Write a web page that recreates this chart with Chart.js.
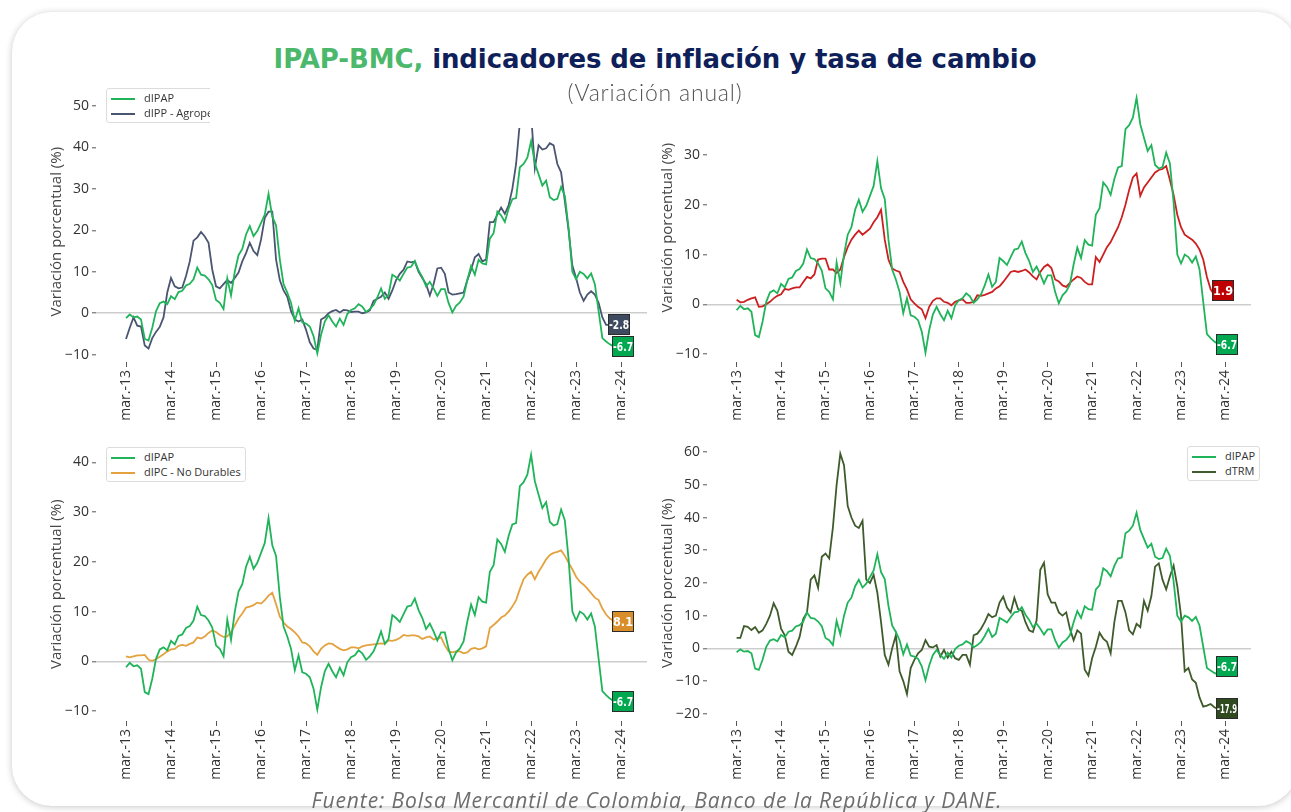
<!DOCTYPE html>
<html lang="es">
<head>
<meta charset="utf-8">
<title>IPAP-BMC, indicadores de inflación y tasa de cambio</title>
<script src="https://cdn.jsdelivr.net/npm/chart.js@4.4.1/dist/chart.umd.min.js"></script>
<style>
  html, body { margin: 0; padding: 0; background: #fff; }
  body { width: 1291px; height: 812px; position: relative; overflow: hidden; font-family: 'Open Sans', sans-serif; }
  #card { position: absolute; left: 12px; top: 12px; width: 1286px; height: 794px; background: #fff;
          border-radius: 40px; box-shadow: 0 1px 7px rgba(0,0,0,0.22); }
  canvas { position: absolute; }
  .legend { position: absolute; background: #fff; border: 1px solid #dcdcdc; border-radius: 3px;
            padding: 1px 4px 2px 4px; font-size: 11px; line-height: 15px; color: #333; white-space: nowrap; overflow: hidden; }
  .legend span { display: inline-block; width: 24px; height: 2px; vertical-align: middle; margin-right: 9px; }
  .mask { position: absolute; left: 210px; top: 80px; width: 432px; height: 48px; background: #fff; }
  #titulo { position: absolute; left: 0; top: 44px; width: 1310px; text-align: center; font-family: 'DejaVu Sans', sans-serif;
            font-weight: bold; font-size: 26px; color: #0f1f5a; letter-spacing: -0.1px; }
  #titulo .verde { color: #4cb86b; }
  #subtitulo { position: absolute; left: 0; top: 78px; width: 1310px; text-align: center; font-family: 'Lato', sans-serif;
               font-weight: 300; font-size: 23px; letter-spacing: 0.8px; color: #555; }
  #fuente { position: absolute; left: 0; top: 786px; width: 1314px; text-align: center; font-style: italic;
            font-size: 21px; letter-spacing: 0.9px; color: #6d6d6d; }
</style>
</head>
<body>
<div id="card"></div>
<canvas id="panel1"></canvas>
<canvas id="panel2"></canvas>
<canvas id="panel3"></canvas>
<canvas id="panel4"></canvas>

<div class="legend" style="left:106px; top:88px; width:120px;">
  <div><span style="background:#20b45a"></span>dIPAP</div>
  <div><span style="background:#4a5570"></span>dIPP - Agropecuario</div>
</div>
<div class="legend" style="left:106px; top:447px;">
  <div><span style="background:#20b45a"></span>dIPAP</div>
  <div><span style="background:#e3a23f"></span>dIPC - No Durables</div>
</div>
<div class="legend" style="left:1187px; top:446px;">
  <div><span style="background:#20b45a"></span>dIPAP</div>
  <div><span style="background:#3f5b2b"></span>dTRM</div>
</div>

<div class="mask"></div>
<div id="titulo"><span class="verde">IPAP-BMC,</span> indicadores de inflación y tasa de cambio</div>
<div id="subtitulo">(Variación anual)</div>
<div id="fuente">Fuente: Bolsa Mercantil de Colombia, Banco de la República y DANE.</div>

<script>
// meses desde mar-2013 (indice 0) hasta ene-2024 (indice 130)
const tickMeses = [0, 12, 24, 36, 48, 60, 72, 84, 96, 108, 120, 132];
const tickEtiquetas = ["mar.-13", "mar.-14", "mar.-15", "mar.-16", "mar.-17", "mar.-18",
                       "mar.-19", "mar.-20", "mar.-21", "mar.-22", "mar.-23", "mar.-24"];

const dIPAP = [
    -1.2, -0.3, -1.0, -0.8, -1.5, -6.2, -6.6, -3.5, 0.5, 2.4,
    2.8, 2.2, 4.1, 3.4, 5.1, 5.4, 6.7, 7.1, 8.2, 11.0, 9.3, 9.1,
    8.2, 6.8, 3.2, 2.5, 1.0, 8.4, 4.3, 10.0, 14.0, 15.5, 19.0, 21.0,
    18.6, 19.8, 21.8, 23.8, 28.8, 23.3, 21.2, 13.0, 7.0, 5.0, 2.5, -1.8,
    1.2, -2.2, -2.5, -3.2, -5.5, -9.7, -5.2, -2.0, -0.5, -2.0, -3.2, -1.3,
    -2.8, -0.2, 0.8, 1.2, 2.2, 1.6, 0.3, 1.0, 2.0, 3.8, 6.0, 3.5,
    4.5, 9.3, 8.7, 7.9, 9.5, 11.0, 11.2, 12.6, 10.3, 8.7, 6.5, 7.6,
    6.0, 4.2, 5.8, 5.8, 2.5, 0.2, 1.8, 2.6, 4.0, 8.0, 11.4, 9.3,
    12.9, 12.0, 11.8, 18.0, 19.3, 24.5, 23.6, 22.0, 25.2, 27.5, 27.8, 35.2,
    36.0, 37.5, 41.5, 36.2, 33.5, 30.8, 32.0, 28.0, 27.3, 27.6, 30.5, 28.3,
    20.5, 10.0, 8.2, 10.0, 9.5, 8.4, 9.6, 7.0, 0.5, -6.0, -6.8, -7.5,
    -8.0
];

const dIPPAgropecuario = [
    -6.2, -3.5, -1.0, -3.0, -3.2, -7.8, -8.5, -6.0, -4.5, -3.3,
    -1.0, 5.0, 8.5, 6.5, 6.0, 6.2, 9.0, 12.5, 17.5, 18.3, 19.6, 18.5,
    17.0, 10.5, 6.5, 6.0, 7.0, 8.0, 7.3, 8.5, 9.8, 12.5, 14.5, 17.0,
    15.0, 14.0, 17.8, 23.0, 24.5, 24.5, 13.0, 8.0, 5.5, 4.0, 0.5, -1.5,
    -2.0, -1.5, -4.0, -7.0, -8.5, -8.8, -1.5, -1.0, 0.0, 0.5, 0.8, 0.2,
    0.8, 0.7, 0.3, 0.4, 0.4, 0.0, 0.2, 0.7, 3.0, 3.5, 4.0, 5.0,
    3.5, 5.5, 8.0, 9.5, 10.5, 12.5, 12.3, 12.5, 10.0, 8.5, 7.0, 4.3,
    7.0, 10.8, 11.0, 9.5, 5.0, 4.5, 4.6, 4.8, 5.0, 8.0, 10.5, 13.5,
    14.3, 12.5, 13.0, 22.0, 22.0, 23.8, 25.5, 24.0, 26.0, 30.0, 36.0, 46.0,
    52.0, 54.0, 48.0, 35.0, 40.5, 39.5, 39.8, 41.0, 40.5, 36.0, 34.0, 27.0,
    20.0, 11.5, 8.5, 5.0, 3.0, 4.5, 5.3, 4.5, 2.5, -1.0, -2.8, -2.8
];

const dIPC = [
    0.9, 0.4, 0.5, 0.9, 1.2, 1.4, -0.5, -0.4, 0.0, 0.5,
    1.2, 1.7, 2.0, 3.1, 2.9, 3.2, 3.4, 3.4, 4.5, 5.5, 5.2, 6.0,
    9.0, 9.2, 9.2, 7.0, 7.0, 6.3, 7.0, 9.5, 11.5, 13.0, 14.0, 14.8,
    14.0, 14.6, 15.2, 16.5, 17.5, 19.0, 13.0, 9.0, 7.2, 6.8, 6.5, 4.5,
    3.0, 1.0, 0.2, -0.5, -1.0, -2.8, -0.5, 0.7, 1.2, 1.2, 0.5, 0.3,
    -0.2, 0.5, 0.8, 1.0, 0.3, 0.3, 0.5, 1.8, 1.7, 1.9, 2.2, 2.5,
    3.2, 3.6, 4.5, 5.5, 6.5, 6.7, 6.5, 6.7, 7.0, 6.4, 5.6, 5.0,
    6.5, 7.5, 8.0, 7.3, 5.0, 4.6, 3.8, 3.5, 4.3, 5.0, 5.6, 5.3,
    4.5, 4.0, 4.0, 9.5, 8.5, 10.0, 11.5, 12.5, 14.0, 15.5, 17.5, 20.0,
    23.0, 25.5, 26.3, 21.8, 23.5, 24.5, 25.5, 26.5, 27.0, 27.2, 27.8, 25.0,
    22.0, 18.0, 15.5, 14.0, 13.5, 13.0, 12.2, 11.0, 9.0, 5.5, 3.0, 1.9
];

const dIPCNoDurables = [
    1.0, 0.8, 1.0, 1.2, 1.2, 1.3, 0.3, 0.1, 0.4, 0.9,
    1.4, 2.0, 2.4, 2.5, 3.1, 3.3, 3.1, 3.5, 3.8, 4.8, 4.6, 5.0,
    5.7, 6.2, 5.9, 5.3, 4.9, 5.0, 5.9, 7.2, 8.6, 9.6, 10.8, 11.0,
    11.3, 11.8, 11.6, 12.3, 13.2, 13.8, 11.5, 9.0, 7.8, 7.0, 6.5, 5.8,
    5.0, 3.8, 3.6, 3.0, 2.0, 1.3, 2.5, 3.2, 3.6, 3.5, 3.0, 2.5,
    2.2, 2.4, 2.8, 2.8, 2.6, 3.0, 3.2, 3.3, 3.4, 3.5, 3.6, 3.5,
    4.2, 4.1, 4.3, 4.7, 5.3, 5.1, 5.2, 5.2, 5.0, 4.5, 4.8, 5.0,
    4.4, 4.6, 4.8, 3.2, 2.0, 1.8, 2.0, 2.0, 1.6, 1.8, 2.5, 2.7,
    2.4, 2.6, 3.0, 6.7, 7.3, 8.0, 8.8, 9.2, 10.0, 11.0, 12.3, 14.5,
    16.5, 17.4, 18.0, 16.5, 18.0, 19.2, 20.5, 21.4, 21.8, 22.0, 22.3, 21.2,
    19.8, 18.5, 17.0, 16.0, 15.4, 14.6, 13.7, 12.8, 12.3, 10.6, 9.4, 8.6,
    8.1
];

const dTRM = [
    3.2, 3.2, 6.8, 6.6, 5.6, 6.5, 4.8, 5.5, 7.5, 10.0,
    13.8, 11.5, 6.0, 4.0, -1.0, -2.0, 0.5, 3.5, 9.0, 11.0, 21.0, 22.3,
    18.5, 28.0, 29.0, 27.5, 37.0, 50.0, 59.5, 56.0, 43.5, 40.0, 37.5, 36.8,
    39.0, 21.0, 20.0, 22.5, 17.0, 8.0, -2.0, -5.0, 0.0, 4.0, -7.0, -10.0,
    -14.0, -6.0, -3.5, -1.5, -0.5, 2.5, 0.5, 0.3, 1.0, -2.5, -0.5, -2.8,
    -1.0, -3.0, -3.5, -2.0, -2.0, -5.0, 4.0, 4.5, 6.0, 8.0, 10.5, 9.5,
    10.0, 14.0, 15.8, 12.5, 11.0, 15.5, 12.0, 11.5, 8.0, 5.5, 5.0, 8.5,
    24.0, 26.2, 16.5, 14.0, 14.0, 11.0, 10.0, 11.0, 6.0, 2.5, 5.5, 4.5,
    -6.5, -8.3, -3.0, 0.5, 4.8, 3.0, 2.0, -1.5, 8.0, 14.5, 14.5, 11.0,
    5.5, 4.3, 7.5, 6.5, 14.5, 11.5, 16.0, 25.0, 26.0, 21.0, 18.0, 22.0,
    25.3, 19.0, 10.0, -7.0, -6.0, -9.5, -10.5, -15.0, -17.8, -17.5, -17.0, -18.0,
    -18.5
];

// valor mostrado en la caja al final de cada serie
const finIPAP = -6.7;
const finIPP = -2.8;
const finIPC = 1.9;
const finIPCND = 8.1;
const finTRM = -17.9;

const VERDE = "#20b45a";

Chart.defaults.font.family = "'Open Sans', 'DejaVu Sans', sans-serif";

function serie(valores) {
    return valores.map((v, i) => ({ x: i, y: v }));
}

const etiquetasFinales = {
    id: "etiquetasFinales",
    afterDatasetsDraw(chart) {
        const ctx = chart.ctx;
        chart.data.datasets.forEach((ds, di) => {
            const meta = chart.getDatasetMeta(di);
            const pt = meta.data[meta.data.length - 1];
            if (!pt || ds.fin == null) return;
            const w = 22, h = 21;
            const x = Math.round(pt.x - 2), y = Math.round(pt.y - h / 2 + (ds.desplaza || 0));
            ctx.save();
            ctx.fillStyle = ds.caja;
            ctx.fillRect(x, y, w, h);
            ctx.strokeStyle = "#2b2b2b";
            ctx.lineWidth = 1;
            ctx.strokeRect(x + 0.5, y + 0.5, w - 1, h - 1);
            ctx.fillStyle = "#fff";
            ctx.font = "bold 13px 'DejaVu Sans Condensed', 'Liberation Sans Narrow', sans-serif";
            ctx.textAlign = "center";
            ctx.textBaseline = "middle";
            ctx.fillText(ds.fin.toFixed(1), x + w / 2, y + h / 2 + 1, w - 2);
            ctx.restore();
        });
    }
};

function crearPanel(id, p) {
    const canvas = document.getElementById(id);
    const altoX = 75;
    canvas.width = p.area.r - p.izq + 2;
    canvas.height = p.area.b - p.area.t + 10 + altoX;
    canvas.style.left = p.izq + "px";
    canvas.style.top = (p.area.t - 10) + "px";
    const anchoY = p.area.l - p.izq;

    new Chart(canvas, {
        type: "line",
        data: {
            datasets: p.series.map(s => ({
                label: s.nombre,
                data: serie(s.valores),
                borderColor: s.color,
                borderWidth: 1.8,
                pointRadius: 0,
                tension: 0,
                fill: false,
                fin: s.fin,
                caja: s.caja,
                desplaza: s.desplaza
            }))
        },
        options: {
            responsive: false,
            animation: false,
            layout: { padding: { top: 10, right: 2, left: 0, bottom: 0 } },
            plugins: { legend: { display: false }, tooltip: { enabled: false } },
            scales: {
                x: {
                    type: "linear",
                    min: p.xMin,
                    max: p.xMax,
                    afterFit: s => { s.height = altoX; },
                    afterBuildTicks: s => { s.ticks = tickMeses.map(v => ({ value: v })); },
                    grid: { drawOnChartArea: false, tickLength: 5, tickColor: "#555", lineWidth: 1 },
                    border: { display: false },
                    ticks: {
                        autoSkip: false, minRotation: 90, maxRotation: 90, padding: 3,
                        color: "#333", font: { size: 14 },
                        callback: v => tickEtiquetas[tickMeses.indexOf(v)]
                    }
                },
                y: {
                    min: p.yMin,
                    max: p.yMax,
                    afterFit: s => { s.width = anchoY; },
                    afterBuildTicks: s => { s.ticks = p.yTicks.map(v => ({ value: v })); },
                    grid: {
                        color: c => (c.tick && c.tick.value === 0) ? "#cdcdcd" : "rgba(0,0,0,0)",
                        lineWidth: 1.6, tickLength: 4, tickColor: "#555", tickWidth: 1
                    },
                    border: { display: false },
                    title: {
                        display: true, text: "Variación porcentual (%)", color: "#444",
                        font: { size: 15 }, padding: { top: 4, bottom: 0 }
                    },
                    ticks: {
                        padding: 3, color: "#333", font: { size: 14 },
                        callback: v => String(v).replace("-", "\u2212")
                    }
                }
            }
        },
        plugins: [etiquetasFinales]
    });
}

crearPanel("panel1", {
    izq: 44, area: { l: 96, t: 100, r: 647, b: 362 },
    xMin: -8, xMax: 138.9, yMin: -11.76, yMax: 51.1,
    yTicks: [-10, 0, 10, 20, 30, 40, 50],
    series: [
        { nombre: "dIPAP", valores: dIPAP, color: VERDE, fin: finIPAP, caja: "#00a850" },
        { nombre: "dIPP - Agropecuario", valores: dIPPAgropecuario, color: "#4a5570", fin: finIPP, caja: "#3e4a60" }
    ]
});

crearPanel("panel2", {
    izq: 655, area: { l: 707, t: 92, r: 1251, b: 362 },
    xMin: -8, xMax: 138.9, yMin: -11.6, yMax: 42.4,
    yTicks: [-10, 0, 10, 20, 30],
    series: [
        { nombre: "dIPAP", valores: dIPAP, color: VERDE, fin: finIPAP, caja: "#00a850" },
        { nombre: "dIPC", valores: dIPC, color: "#cc1f1f", fin: finIPC, caja: "#c00000", desplaza: -4 }
    ]
});

crearPanel("panel3", {
    izq: 44, area: { l: 96, t: 446, r: 647, b: 721 },
    xMin: -8, xMax: 138.9, yMin: -12, yMax: 43,
    yTicks: [-10, 0, 10, 20, 30, 40],
    series: [
        { nombre: "dIPAP", valores: dIPAP, color: VERDE, fin: finIPAP, caja: "#00a850" },
        { nombre: "dIPC - No Durables", valores: dIPCNoDurables, color: "#e3a23f", fin: finIPCND, caja: "#d98e2a" }
    ]
});

crearPanel("panel4", {
    izq: 655, area: { l: 707, t: 444, r: 1251, b: 721 },
    xMin: -8, xMax: 138.9, yMin: -22.2, yMax: 62.05,
    yTicks: [-20, -10, 0, 10, 20, 30, 40, 50, 60],
    series: [
        { nombre: "dIPAP", valores: dIPAP, color: VERDE, fin: finIPAP, caja: "#00a850", desplaza: -8 },
        { nombre: "dTRM", valores: dTRM, color: "#3f5b2b", fin: finTRM, caja: "#2e4a1e" }
    ]
});
</script>
</body>
</html>
